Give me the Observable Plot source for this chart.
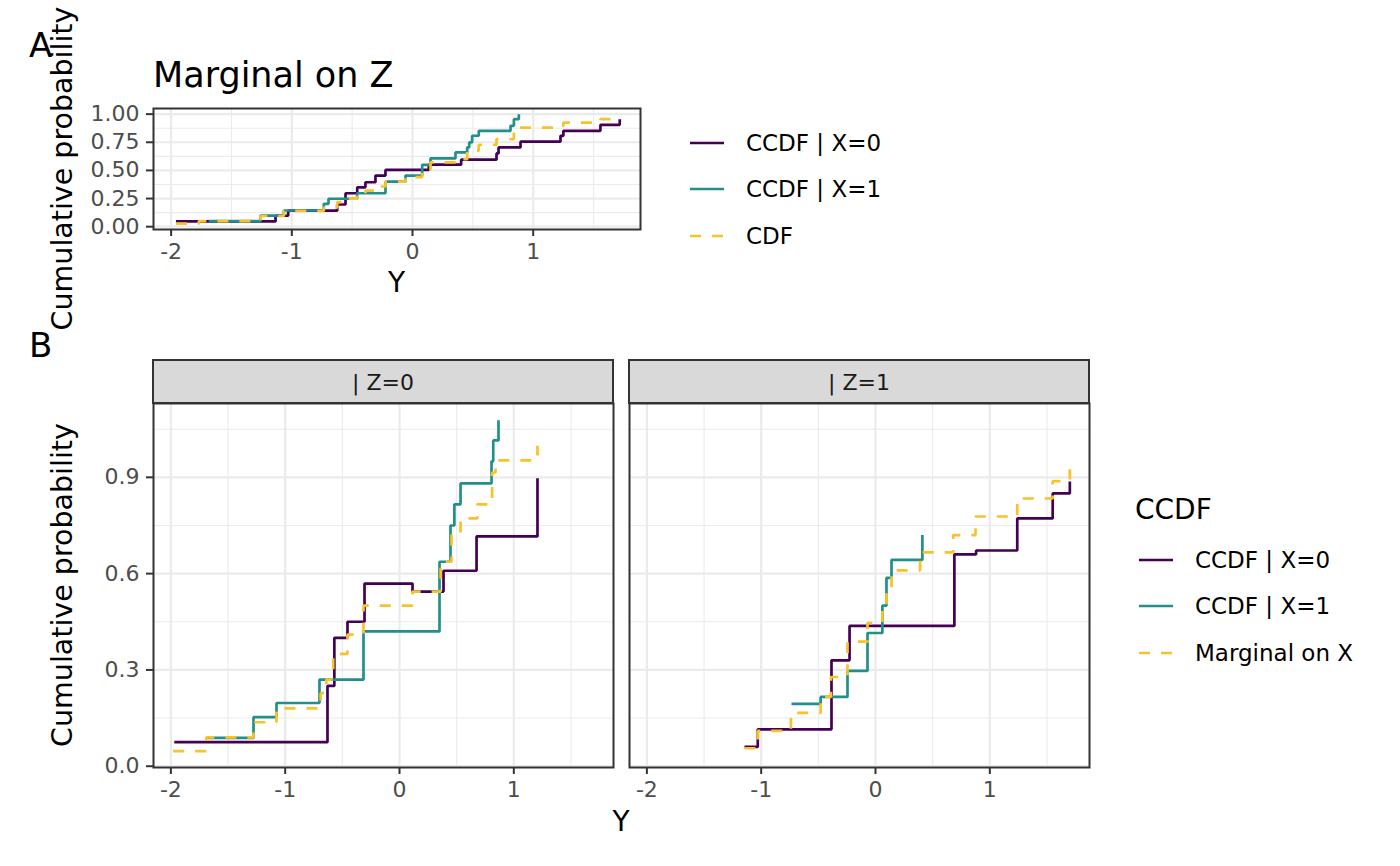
<!DOCTYPE html>
<html>
<head>
<meta charset="utf-8">
<script src="https://cdn.jsdelivr.net/npm/d3@7"></script>
<script src="https://cdn.jsdelivr.net/npm/@observablehq/plot@0.6"></script>
<style>
  html, body { margin: 0; padding: 0; background: #ffffff; }
  #root { position: relative; width: 1400px; height: 866px; overflow: hidden; font-family: 'DejaVu Sans', sans-serif; }
  #root > svg, #root > .layer { position: absolute; left: 0; top: 0; }
</style>
</head>
<body>
<div id="root"></div>
<script>
// ---------------- Data ----------------
// Panel A: "Marginal on Z"
const aX0_y = [-1.96, -1.135, -1.03, -0.624, -0.555, -0.458, -0.39, -0.307, -0.224, 0.135, 0.403, 0.696, 0.713, 0.895, 1.226, 1.25, 1.557, 1.717];
const aX0_p = [0.047, 0.097, 0.142, 0.197, 0.297, 0.35, 0.395, 0.454, 0.504, 0.551, 0.595, 0.651, 0.704, 0.755, 0.807, 0.852, 0.905, 0.955];
const aX1_y = [-1.688, -1.259, -1.066, -0.735, -0.696, -0.459, -0.224, -0.058, 0.08, 0.149, 0.356, 0.453, 0.47, 0.494, 0.549, 0.812, 0.84, 0.881];
const aX1_p = [0.05, 0.099, 0.144, 0.203, 0.248, 0.297, 0.40, 0.454, 0.55, 0.607, 0.66, 0.704, 0.749, 0.808, 0.852, 0.896, 0.955, 1.0];
const aCDF_y = [-1.96, -1.77, -1.259, -1.066, -0.735, -0.624, -0.555, -0.459, -0.39, -0.307, -0.224, -0.058, 0.08, 0.149, 0.356, 0.453, 0.549, 0.696, 0.84, 0.881, 1.226, 1.25, 1.557, 1.717];
const aCDF_p = [0.027, 0.05, 0.095, 0.14, 0.17, 0.218, 0.25, 0.277, 0.32, 0.357, 0.40, 0.44, 0.50, 0.572, 0.60, 0.675, 0.728, 0.778, 0.837, 0.88, 0.895, 0.925, 0.955, 0.97];

// Panel B, | Z=0
const z0X0_y = [-1.97, -0.63, -0.57, -0.455, -0.306, 0.114, 0.385, 0.674, 1.207];
const z0X0_p = [0.075, 0.25, 0.40, 0.45, 0.569, 0.544, 0.609, 0.716, 0.897];
const z0X1_y = [-1.68, -1.277, -1.076, -0.70, -0.315, 0.35, 0.446, 0.48, 0.534, 0.805, 0.82, 0.866];
const z0X1_p = [0.088, 0.153, 0.197, 0.27, 0.42, 0.637, 0.75, 0.816, 0.881, 0.95, 1.015, 1.078];
const z0M_y = [-1.98, -1.69, -1.277, -1.076, -0.69, -0.64, -0.58, -0.455, -0.315, 0.114, 0.36, 0.455, 0.534, 0.68, 0.81, 0.84, 1.207];
const z0M_p = [0.047, 0.09, 0.137, 0.18, 0.228, 0.27, 0.35, 0.41, 0.50, 0.544, 0.637, 0.728, 0.772, 0.816, 0.915, 0.953, 0.998];

// Panel B, | Z=1
const z1X0_y = [-1.146, -1.03, -0.385, -0.227, 0.69, 0.88, 1.24, 1.55, 1.70];
const z1X0_p = [0.06, 0.115, 0.33, 0.437, 0.66, 0.672, 0.772, 0.85, 0.887];
const z1X1_y = [-0.735, -0.48, -0.245, -0.07, 0.06, 0.096, 0.14, 0.41];
const z1X1_p = [0.194, 0.216, 0.297, 0.415, 0.50, 0.587, 0.643, 0.72];
const z1M_y = [-1.146, -1.03, -0.74, -0.48, -0.39, -0.245, -0.07, 0.06, 0.096, 0.14, 0.39, 0.68, 0.875, 1.24, 1.55, 1.70];
const z1M_p = [0.056, 0.11, 0.166, 0.216, 0.278, 0.388, 0.446, 0.503, 0.556, 0.61, 0.666, 0.72, 0.778, 0.834, 0.888, 0.925];

// Labels / ticks
const seriesA = ["CCDF | X=0", "CCDF | X=1", "CDF"];
const seriesB = ["CCDF | X=0", "CCDF | X=1", "Marginal on X"];
const facetLabels = ["| Z=0", "| Z=1"];
const xTicks = [-2, -1, 0, 1];
const xMinor = [-1.5, -0.5, 0.5, 1.5];
const aYTicks = [0, 0.25, 0.5, 0.75, 1];
const aYMinor = [0.125, 0.375, 0.625, 0.875];
const bYTicks = [0, 0.3, 0.6, 0.9];
const bYMinor = [0.15, 0.45, 0.75, 1.05];

// ---------------- Styling ----------------
const COLORS = ["#440154", "#21908C", "#F9C22A"];
const DASH = [null, null, "11,11"];
const FONT = "'DejaVu Sans', sans-serif";
const LW = 2.7;
const W = 1400, H = 866;

function rows(ys, ps) { return ys.map((v, i) => ({ v, p: ps[i] })); }

function panel({ series, xDomain, yDomain, left, right, top, bottom, yTicks, yMinor, yFormat, showY }) {
  const marks = [
    Plot.gridX({ ticks: xMinor, stroke: "#EBEBEB", strokeOpacity: 1, strokeWidth: 1.1 }),
    Plot.gridY({ ticks: yMinor, stroke: "#EBEBEB", strokeOpacity: 1, strokeWidth: 1.1 }),
    Plot.gridX({ ticks: xTicks, stroke: "#EBEBEB", strokeOpacity: 1, strokeWidth: 2.2 }),
    Plot.gridY({ ticks: yTicks, stroke: "#EBEBEB", strokeOpacity: 1, strokeWidth: 2.2 }),
  ];
  series.forEach((s, i) => {
    marks.push(Plot.line(s, {
      x: "v", y: "p", curve: "step-after",
      stroke: COLORS[i], strokeWidth: LW,
      strokeDasharray: DASH[i], strokeLinecap: "butt", strokeLinejoin: "miter"
    }));
  });
  marks.push(Plot.frame({ stroke: "#333333", strokeWidth: 2 }));
  marks.push(Plot.axisX({
    ticks: xTicks, tickSize: 7, tickPadding: 7, strokeWidth: 2, stroke: "#333333",
    fill: "#4D4D4D", fontSize: 22, tickFormat: d => String(d), label: null
  }));
  if (showY) {
    marks.push(Plot.axisY({
      ticks: yTicks, tickSize: 7, tickPadding: 7, strokeWidth: 2, stroke: "#333333",
      fill: "#4D4D4D", fontSize: 22, tickFormat: yFormat, label: null
    }));
  }
  return Plot.plot({
    width: W, height: H,
    marginLeft: left, marginRight: W - right, marginTop: top, marginBottom: H - bottom,
    x: { domain: xDomain, axis: null },
    y: { domain: yDomain, axis: null },
    style: { background: "transparent", fontFamily: FONT, fontSize: "22px", color: "#4D4D4D", overflow: "visible" },
    marks
  });
}

const root = document.getElementById("root");

// Panel A
root.appendChild(panel({
  series: [rows(aX0_y, aX0_p), rows(aX1_y, aX1_p), rows(aCDF_y, aCDF_p)],
  xDomain: [-2.146, 1.889], yDomain: [-0.025, 1.05],
  left: 153, right: 640, top: 108, bottom: 229,
  yTicks: aYTicks, yMinor: aYMinor, yFormat: d3.format(".2f"), showY: true
}));

// Panel B, Z=0
root.appendChild(panel({
  series: [rows(z0X0_y, z0X0_p), rows(z0X1_y, z0X1_p), rows(z0M_y, z0M_p)],
  xDomain: [-2.152, 1.872], yDomain: [-0.004, 1.13],
  left: 153, right: 613, top: 403, bottom: 767,
  yTicks: bYTicks, yMinor: bYMinor, yFormat: d3.format(".1f"), showY: true
}));

// Panel B, Z=1
root.appendChild(panel({
  series: [rows(z1X0_y, z1X0_p), rows(z1X1_y, z1X1_p), rows(z1M_y, z1M_p)],
  xDomain: [-2.152, 1.872], yDomain: [-0.004, 1.13],
  left: 629, right: 1089, top: 403, bottom: 767,
  yTicks: bYTicks, yMinor: bYMinor, yFormat: d3.format(".1f"), showY: false
}));

// ---------------- Annotation layer: titles, strips, legends ----------------
const svg = d3.select(root).append("svg")
  .attr("width", W).attr("height", H)
  .style("position", "absolute").style("left", 0).style("top", 0)
  .style("font-family", FONT);

function text(x, y, s, size, opts = {}) {
  const t = svg.append("text").attr("x", x).attr("y", y).text(s)
    .attr("font-size", size).attr("fill", opts.fill || "#000000")
    .attr("text-anchor", opts.anchor || "start");
  if (opts.rotate) t.attr("transform", `rotate(-90 ${x} ${y})`);
  return t;
}

// Tags and title
text(29, 57, "A", 34);
text(29, 357, "B", 34);
text(153, 87, "Marginal on Z", 35);

// Axis titles
text(72, 168.5, "Cumulative probability", 28.5, { anchor: "middle", rotate: true });
text(72, 585, "Cumulative probability", 28.5, { anchor: "middle", rotate: true });
text(396.5, 292, "Y", 28, { anchor: "middle" });
text(621, 831, "Y", 28, { anchor: "middle" });

// Facet strips
[[153, 613], [629, 1089]].forEach(([x0, x1], i) => {
  svg.append("rect").attr("x", x0).attr("y", 360).attr("width", x1 - x0).attr("height", 43)
    .attr("fill", "#D9D9D9").attr("stroke", "#333333").attr("stroke-width", 2);
  text((x0 + x1) / 2, 389.5, facetLabels[i], 22, { anchor: "middle", fill: "#1A1A1A" });
});

// Legends
function legend(labels, keyX0, keyX1, textX, ys) {
  labels.forEach((lab, i) => {
    const y = ys[i];
    const ln = svg.append("line").attr("x1", keyX0).attr("x2", keyX1).attr("y1", y).attr("y2", y)
      .attr("stroke", COLORS[i]).attr("stroke-width", LW);
    if (DASH[i]) ln.attr("stroke-dasharray", DASH[i]);
    text(textX, y + 8, lab, 23);
  });
}
legend(seriesA, 690, 724, 746, [143, 189, 236]);
text(1135, 519, "CCDF", 28);
legend(seriesB, 1139, 1173, 1195, [560, 606, 653]);
</script>
</body>
</html>
